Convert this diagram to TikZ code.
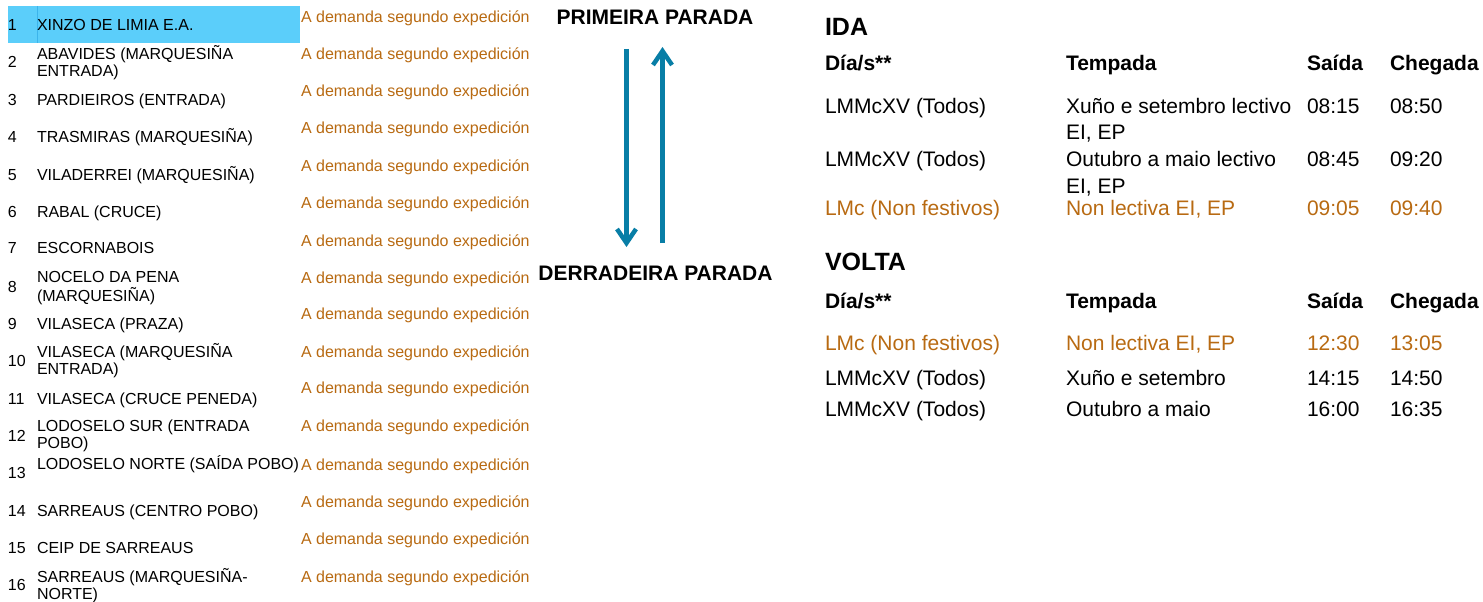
\documentclass[tikz,border=0pt]{standalone}
\usepackage{fontspec}
\setmainfont{Liberation Sans}
\usetikzlibrary{arrows.meta}
\definecolor{orangetxt}{RGB}{184,106,18}
\definecolor{hl}{RGB}{91,206,250}
\definecolor{hlline}{RGB}{60,180,235}
\definecolor{arrowblue}{RGB}{8,126,166}
\newcommand\twol[2]{\begin{tabular}[t]{@{}l@{}}#1\\#2\end{tabular}}
\begin{document}
\begin{tikzpicture}[x=1pt,y=-1pt,
  every node/.style={inner sep=0pt, outer sep=0pt, anchor=base west},
  stopnum/.style={font=\fontsize{16}{16.5}\selectfont},
  stopname/.style={font=\fontsize{16}{16.5}\selectfont},
  demand/.style={font=\fontsize{16}{18}\selectfont, text=orangetxt},
  parada/.style={font=\bfseries\fontsize{21}{24}\selectfont, anchor=base},
  sect/.style={font=\bfseries\fontsize{25}{28}\selectfont},
  thead/.style={font=\bfseries\fontsize{21}{24}\selectfont},
  tcell/.style={font=\fontsize{21}{26.5}\selectfont},
  hot/.style={text=orangetxt},
  flow/.style={draw=arrowblue, line width=4.5pt, -{Straight Barb[length=14pt, width=19pt]}}
]
\useasboundingbox (0,0) rectangle (1483,602);
% highlight of first row
\fill[hl] (8,6) rectangle (300,43);
\draw[hlline, line width=0.8pt] (37.5,6) -- (37.5,43);

% stop numbers
\node[stopnum] (n1) at (8,30.5) {1};
\node[stopnum] (n2) at (8,67.5) {2};
\node[stopnum] (n3) at (8,105.5) {3};
\node[stopnum] (n4) at (8,142.5) {4};
\node[stopnum] (n5) at (8,180.5) {5};
\node[stopnum] (n6) at (8,217.5) {6};
\node[stopnum] (n7) at (8,253.5) {7};
\node[stopnum] (n8) at (8,292.5) {8};
\node[stopnum] (n9) at (8,329.5) {9};
\node[stopnum] (n10) at (8,366.5) {10};
\node[stopnum] (n11) at (8,404.5) {11};
\node[stopnum] (n12) at (8,441.5) {12};
\node[stopnum] (n13) at (8,478.5) {13};
\node[stopnum] (n14) at (8,516.5) {14};
\node[stopnum] (n15) at (8,553.5) {15};
\node[stopnum] (n16) at (8,590.5) {16};

% stop names
\node[stopname] (s1) at (37,30.5) {XINZO DE LIMIA E.A.};
\node[stopname] (s2) at (37,59.5) {\twol{ABAVIDES (MARQUESIÑA}{ENTRADA)}};
\node[stopname] (s3) at (37,105.5) {PARDIEIROS (ENTRADA)};
\node[stopname] (s4) at (37,142.5) {TRASMIRAS (MARQUESIÑA)};
\node[stopname] (s5) at (37,180.5) {VILADERREI (MARQUESIÑA)};
\node[stopname] (s6) at (37,217.5) {RABAL (CRUCE)};
\node[stopname] (s7) at (37,253.5) {ESCORNABOIS};
\node[stopname] (s8) at (37,282.5) {\twol{NOCELO DA PENA}{(MARQUESIÑA)}};
\node[stopname] (s9) at (37,329.5) {VILASECA (PRAZA)};
\node[stopname] (s10) at (37,357.5) {\twol{VILASECA (MARQUESIÑA}{ENTRADA)}};
\node[stopname] (s11) at (37,404.5) {VILASECA (CRUCE PENEDA)};
\node[stopname] (s12) at (37,431.5) {\twol{LODOSELO SUR (ENTRADA}{POBO)}};
\node[stopname] (s13) at (37,469.5) {LODOSELO NORTE (SAÍDA POBO)};
\node[stopname] (s14) at (37,516.5) {SARREAUS (CENTRO POBO)};
\node[stopname] (s15) at (37,553.5) {CEIP DE SARREAUS};
\node[stopname] (s16) at (37,582.5) {\twol{SARREAUS (MARQUESIÑA-}{NORTE)}};

% demand notes
\foreach \i/\y in {1/22.7, 2/59.7, 3/96.7, 4/133.7, 5/171.7, 6/208.7, 7/246.7, 8/283.7,
                   9/319.7, 10/357.7, 11/393.7, 12/431.7, 13/470.7, 14/507.7, 15/544.7, 16/582.7}
  \node[demand] (d\i) at (301,\y) {A demanda segundo expedición};

% first / last stop and direction arrows
\node[parada] (first) at (655,25) {PRIMEIRA PARADA};
\node[parada] (last) at (655.5,280.5) {DERRADEIRA PARADA};
\coordinate (downtop) at (626.5,49);
\coordinate (downbot) at (626.5,247);
\coordinate (upbot) at (662.5,243);
\coordinate (uptop) at (662.5,47);
\draw[flow] (downtop) -- (downbot);
\draw[flow] (upbot) -- (uptop);

% IDA table
\node[sect] (ida) at (825,36) {IDA};
\node[thead] (ih1) at (825,70.5) {Día/s**};
\node[thead] (ih2) at (1066,70.5) {Tempada};
\node[thead] (ih3) at (1307,70.5) {Saída};
\node[thead] (ih4) at (1390,70.5) {Chegada};

\node[tcell] (i1a) at (825,113) {LMMcXV (Todos)};
\node[tcell] (i1b) at (1066,113) {\twol{Xuño e setembro lectivo}{EI, EP}};
\node[tcell] (i1c) at (1307,113) {08:15};
\node[tcell] (i1d) at (1390,113) {08:50};

\node[tcell] (i2a) at (825,166.5) {LMMcXV (Todos)};
\node[tcell] (i2b) at (1066,166.5) {\twol{Outubro a maio lectivo}{EI, EP}};
\node[tcell] (i2c) at (1307,166.5) {08:45};
\node[tcell] (i2d) at (1390,166.5) {09:20};

\node[tcell,hot] (i3a) at (825,215) {LMc (Non festivos)};
\node[tcell,hot] (i3b) at (1066,215) {Non lectiva EI, EP};
\node[tcell,hot] (i3c) at (1307,215) {09:05};
\node[tcell,hot] (i3d) at (1390,215) {09:40};

% VOLTA table
\node[sect] (volta) at (825,270) {VOLTA};
\node[thead] (vh1) at (825,308.5) {Día/s**};
\node[thead] (vh2) at (1066,308.5) {Tempada};
\node[thead] (vh3) at (1307,308.5) {Saída};
\node[thead] (vh4) at (1390,308.5) {Chegada};

\node[tcell,hot] (v1a) at (825,350.5) {LMc (Non festivos)};
\node[tcell,hot] (v1b) at (1066,350.5) {Non lectiva EI, EP};
\node[tcell,hot] (v1c) at (1307,350.5) {12:30};
\node[tcell,hot] (v1d) at (1390,350.5) {13:05};

\node[tcell] (v2a) at (825,385.5) {LMMcXV (Todos)};
\node[tcell] (v2b) at (1066,385.5) {Xuño e setembro};
\node[tcell] (v2c) at (1307,385.5) {14:15};
\node[tcell] (v2d) at (1390,385.5) {14:50};

\node[tcell] (v3a) at (825,416.5) {LMMcXV (Todos)};
\node[tcell] (v3b) at (1066,416.5) {Outubro a maio};
\node[tcell] (v3c) at (1307,416.5) {16:00};
\node[tcell] (v3d) at (1390,416.5) {16:35};
\end{tikzpicture}
\end{document}
